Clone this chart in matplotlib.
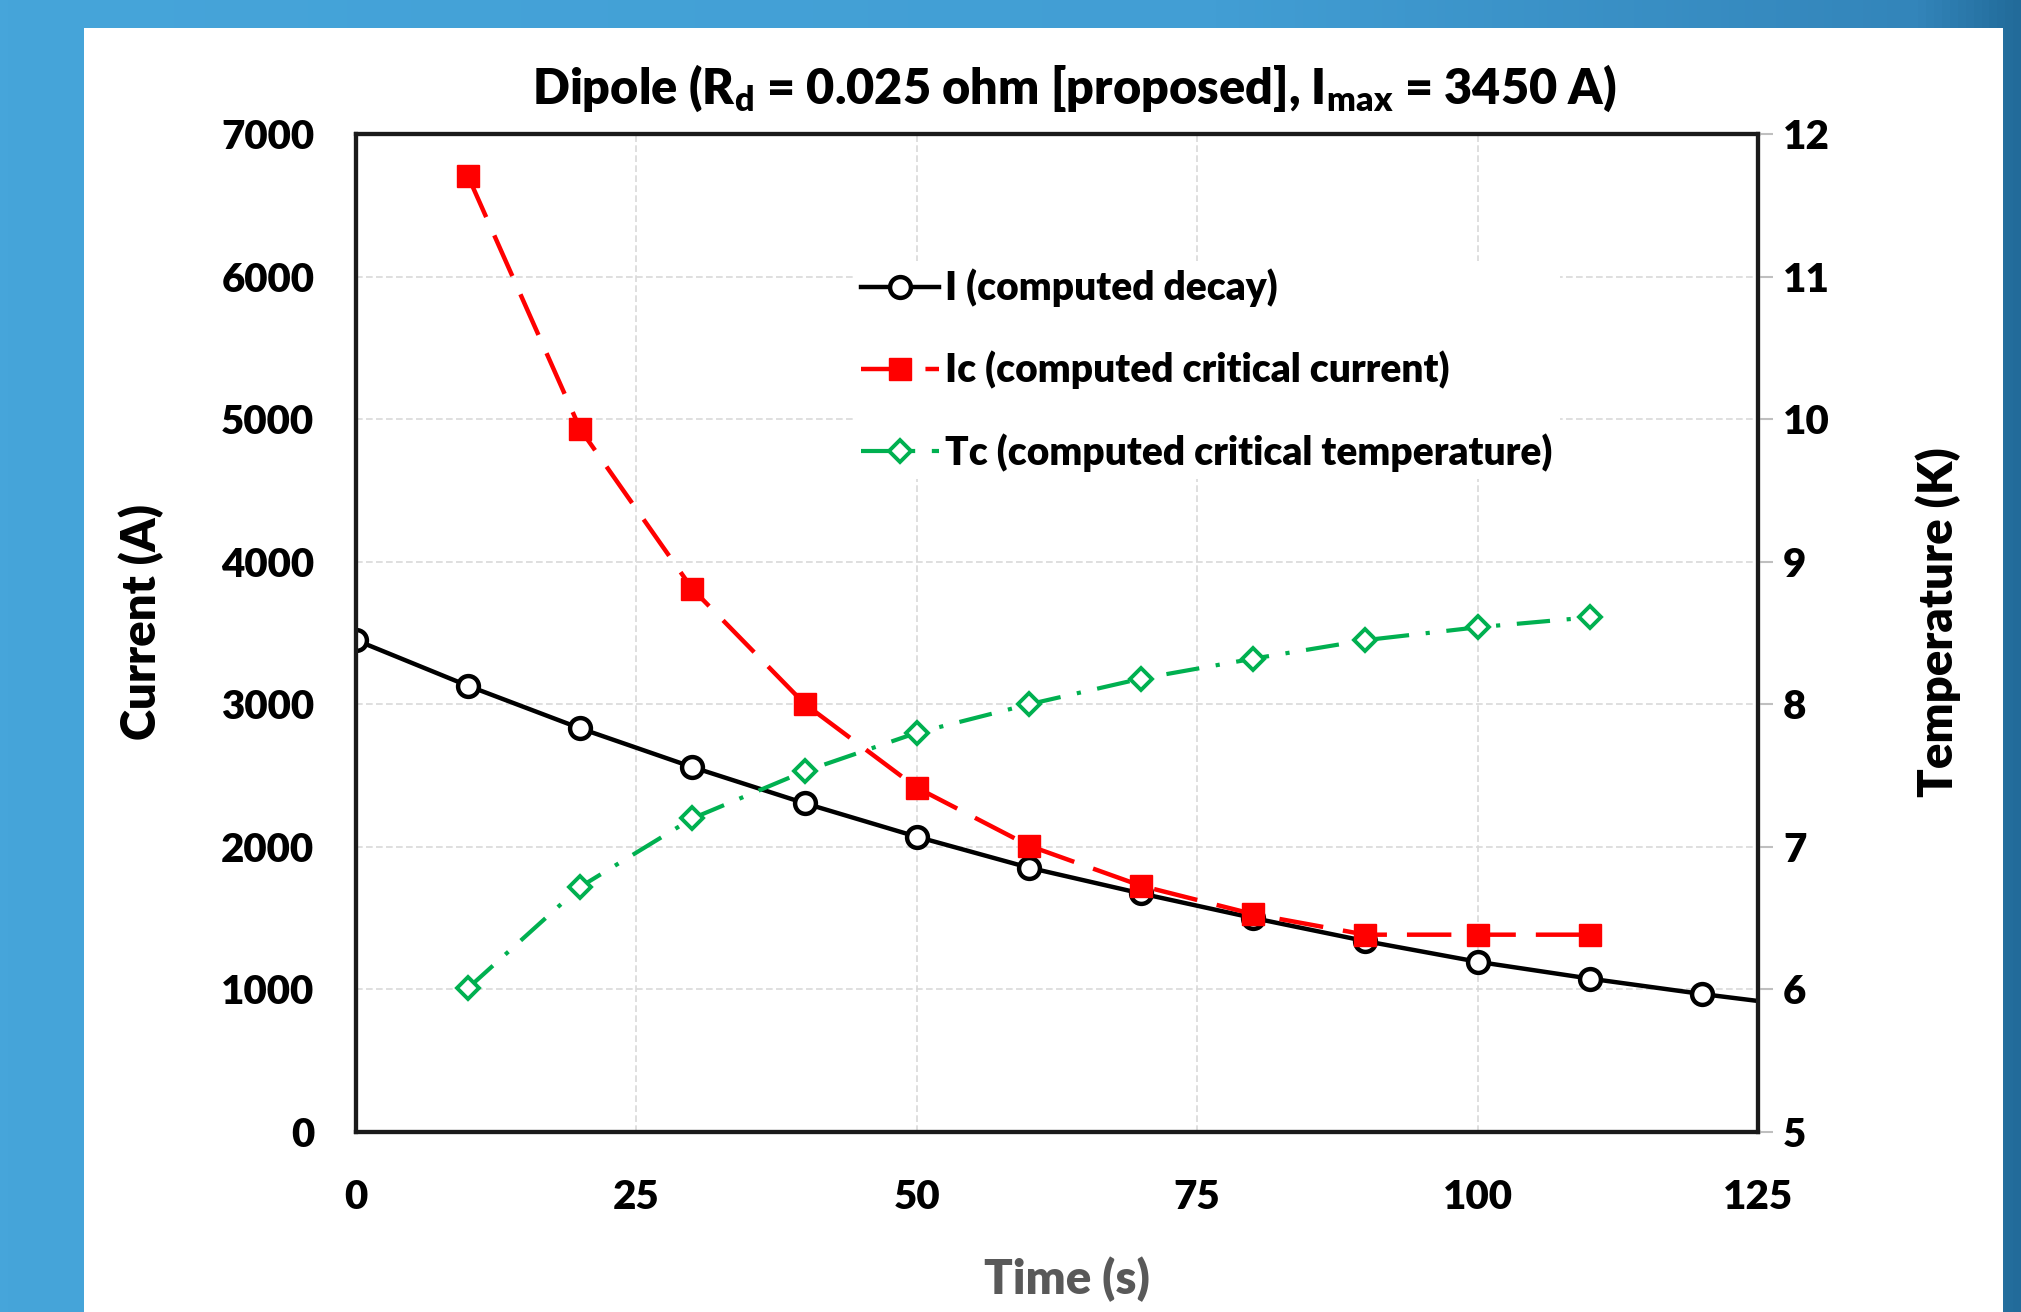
import numpy as np
import matplotlib
matplotlib.use("Agg")
import matplotlib.pyplot as plt
from matplotlib.patches import Rectangle

plt.rcParams["font.family"] = ["Lato", "DejaVu Sans"]
plt.rcParams["font.weight"] = "heavy"
W = "heavy"

# data
t_I = [0, 10, 20, 30, 40, 50, 60, 70, 80, 90, 100, 110, 120, 130]
I_decay = [3450, 3129, 2831, 2559, 2306, 2071, 1854, 1673, 1501, 1339, 1194, 1076, 968, 870]

t_c = [10, 20, 30, 40, 50, 60, 70, 80, 90, 100, 110]
Ic = [6702, 4929, 3808, 3003, 2415, 2008, 1727, 1528, 1384, 1384, 1384]
Tc = [6.01, 6.72, 7.20, 7.53, 7.80, 8.00, 8.18, 8.32, 8.45, 8.54, 8.61]

x_ticks = [0, 25, 50, 75, 100, 125]
y_ticks = [0, 1000, 2000, 3000, 4000, 5000, 6000, 7000]
t_ticks = [5, 6, 7, 8, 9, 10, 11, 12]

fig = plt.figure(figsize=(20.21, 13.12), dpi=100)

# blue slide background with white panel
bg = fig.add_axes([0, 0, 1, 1], zorder=-10)
grad = np.linspace(0, 1, 256)
r = np.interp(grad, [0, 0.6, 0.95, 1], [0x46, 0x42, 0x33, 0x22]) / 255
g = np.interp(grad, [0, 0.6, 0.95, 1], [0xA5, 0x9E, 0x85, 0x6B]) / 255
b = np.interp(grad, [0, 0.6, 0.95, 1], [0xDA, 0xD4, 0xBA, 0x9A]) / 255
img = np.dstack([r, g, b])
bg.imshow(img, aspect="auto", extent=[0, 1, 0, 1])
bg.add_patch(Rectangle((84 / 2021, 0), (2003 - 84) / 2021, 1 - 28 / 1312,
                       facecolor="white", edgecolor="none"))
bg.set_xlim(0, 1)
bg.set_ylim(0, 1)
bg.axis("off")

ax = fig.add_axes([356 / 2021, 1 - 1132 / 1312, 1402 / 2021, 998 / 1312])
ax2 = ax.twinx()

l1, = ax.plot(t_I, I_decay, "-o", color="black", lw=3.2, ms=15,
              mfc="white", mec="black", mew=3.2,
              label="I (computed decay)")
l2, = ax.plot(t_c, Ic, "--s", color="#FF0000", lw=3.2, ms=16,
              dashes=(10, 4.5), label="Ic (computed critical current)")
l3, = ax2.plot(t_c, Tc, "-.D", color="#00B050", lw=3.0, ms=11,
               mfc="white", mec="#00B050", mew=2.8, dashes=(8, 4, 1, 4),
               label="Tc (computed critical temperature)")

ax.set_xlim(0, 125)
ax.set_ylim(0, 7000)
ax2.set_ylim(5, 12)
ax.set_xticks(x_ticks)
ax.set_yticks(y_ticks)
ax2.set_yticks(t_ticks)

ax.grid(True, color="#D9D9D9", linestyle=(0, (4, 2)), lw=1.2)
ax.set_axisbelow(True)

ax.tick_params(axis="both", length=0, labelsize=29)
ax.tick_params(axis="x", pad=34)
ax.tick_params(axis="y", pad=30)
ax2.tick_params(axis="y", length=11, width=1.5, color="#BFBFBF",
                labelsize=29, pad=7)

for a in (ax, ax2):
    for s in a.spines.values():
        s.set_color("#1A1A1A")
        s.set_linewidth(3)

ax.set_ylabel("Current (A)", fontsize=34, fontweight=W)
ax.yaxis.set_label_coords(-0.137, 0.511)
ax2.set_ylabel("Temperature (K)", fontsize=34, fontweight=W)
ax2.yaxis.set_label_coords(1.112, 0.511)
ax.set_xlabel("Time (s)", fontsize=34, fontweight=W, color="#595959")
ax.xaxis.set_label_coords(0.507, -0.125)

ax.text(0.512, 1.046,
        r"Dipole (R$\mathregular{_d}$ = 0.025 ohm [proposed], I$\mathregular{_{max}}$ = 3450 A)",
        transform=ax.transAxes, ha="center", va="center",
        fontsize=35, fontweight=W)

leg = ax2.legend(handles=[l1, l2, l3], loc="upper left",
                 bbox_to_anchor=(0.355, 0.873), fontsize=28,
                 frameon=True, facecolor="white", edgecolor="none",
                 framealpha=1, labelspacing=1.12, handlelength=2.0,
                 handletextpad=0.15, borderpad=0.2, borderaxespad=0)

fig.savefig("out.png", dpi=100)
